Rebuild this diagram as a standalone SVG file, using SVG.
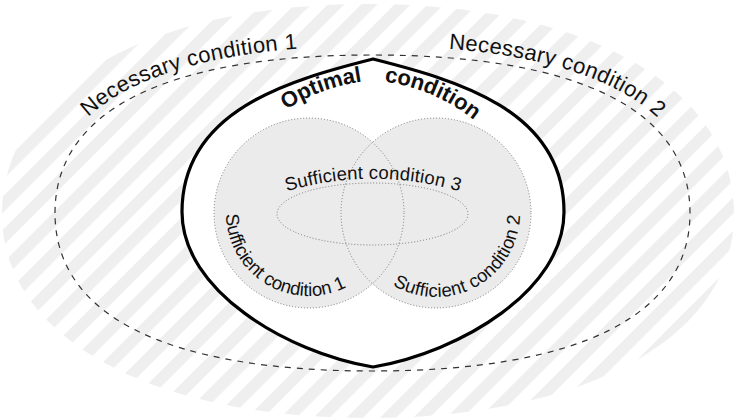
<svg xmlns="http://www.w3.org/2000/svg" width="735" height="420" viewBox="0 0 735 420">
  <defs>
    <pattern id="stripes" patternUnits="userSpaceOnUse" width="23.5" height="23.5" patternTransform="rotate(45)">
      <rect x="0" y="0" width="11.5" height="23.5" fill="#efefef"/>
    </pattern>
    <path id="necPath" d="M 46,213 C 46,104.4 160.3,46 372.5,46 C 584.7,46 699,104.4 699,213"/>
    <path id="optPath" d="M 250,140 C 285,105 320,86 373,80 C 426,86 461,105 496,140"/>
    <path id="s1Path" d="M 226,214.4 A 83,83 0 0,0 372.6,266.4"/>
    <path id="s2Path" d="M 392.7,285 A 84,84 0 0,0 514.9,184.3"/>
    <path id="s3Path" d="M 270,197 A 300,300 0 0,1 476,197"/>
  </defs>
  <style>
    text { font-family: "Liberation Sans", Arial, Helvetica, sans-serif; fill: #111; }
    .nec { font-size: 22px; }
    .opt { font-size: 22px; font-weight: bold; }
    .suf { font-size: 18.5px; }
    .dashed { fill: none; stroke: #333; stroke-width: 1.2; stroke-dasharray: 6 6; }
    .thick { fill: #fff; stroke: #000; stroke-width: 3.2; stroke-linejoin: miter; }
    .disc { fill: #ebebeb; stroke: none; }
    .dotted { fill: none; stroke: #777; stroke-width: 1; stroke-dasharray: 1 2; }
  </style>

  <g id="hatch-region">
    <path d="M 2,214 C 2,88 148.4,4 368,4 C 587.6,4 734,88 734,214 C 734,336.4 587.6,418 368,418 C 148.4,418 2,336.4 2,214 Z" fill="url(#stripes)"/>
  </g>

  <g id="necessary">
    <path class="dashed" d="M 55,213 C 55,110.3 166.1,55 372.5,55 C 578.9,55 690,110.3 690,213 C 690,315.7 578.9,371 372.5,371 C 166.1,371 55,315.7 55,213 Z"/>
    <text class="nec"><textPath href="#necPath" startOffset="108" textLength="224" lengthAdjust="spacing">Necessary condition 1</textPath></text>
    <text class="nec"><textPath href="#necPath" startOffset="483" textLength="224" lengthAdjust="spacing">Necessary condition 2</textPath></text>
  </g>

  <g id="optimal">
    <path class="thick" d="M 373,59 C 290,80 182,110 182,212 C 182,290 285,352 373,367 C 461,352 564,290 564,212 C 564,110 456,80 373,59 Z"/>
    <text class="opt"><textPath href="#optPath" startOffset="129" text-anchor="end">Optimal</textPath></text>
    <text class="opt"><textPath href="#optPath" startOffset="151">condition</textPath></text>
  </g>

  <g id="sufficient-1">
    <circle class="disc" cx="309" cy="213" r="95"/>
  </g>
  <g id="sufficient-2">
    <circle class="disc" cx="436" cy="213" r="95"/>
  </g>
  <g id="outlines">
    <circle class="dotted" cx="309" cy="213" r="95"/>
    <circle class="dotted" cx="436" cy="213" r="95"/>
  </g>
  <g id="sufficient-3">
    <ellipse class="dotted" cx="372.5" cy="214" rx="95.5" ry="31"/>
    <text class="suf"><textPath href="#s3Path" startOffset="50%" text-anchor="middle" textLength="175" lengthAdjust="spacing">Sufficient condition 3</textPath></text>
  </g>
  <g id="labels-sufficient">
    <text class="suf"><textPath href="#s1Path" textLength="168" lengthAdjust="spacing">Sufficient condition 1</textPath></text>
    <text class="suf"><textPath href="#s2Path" textLength="175" lengthAdjust="spacing">Sufficient condition 2</textPath></text>
  </g>
  <g id="connectors"/>
</svg>
